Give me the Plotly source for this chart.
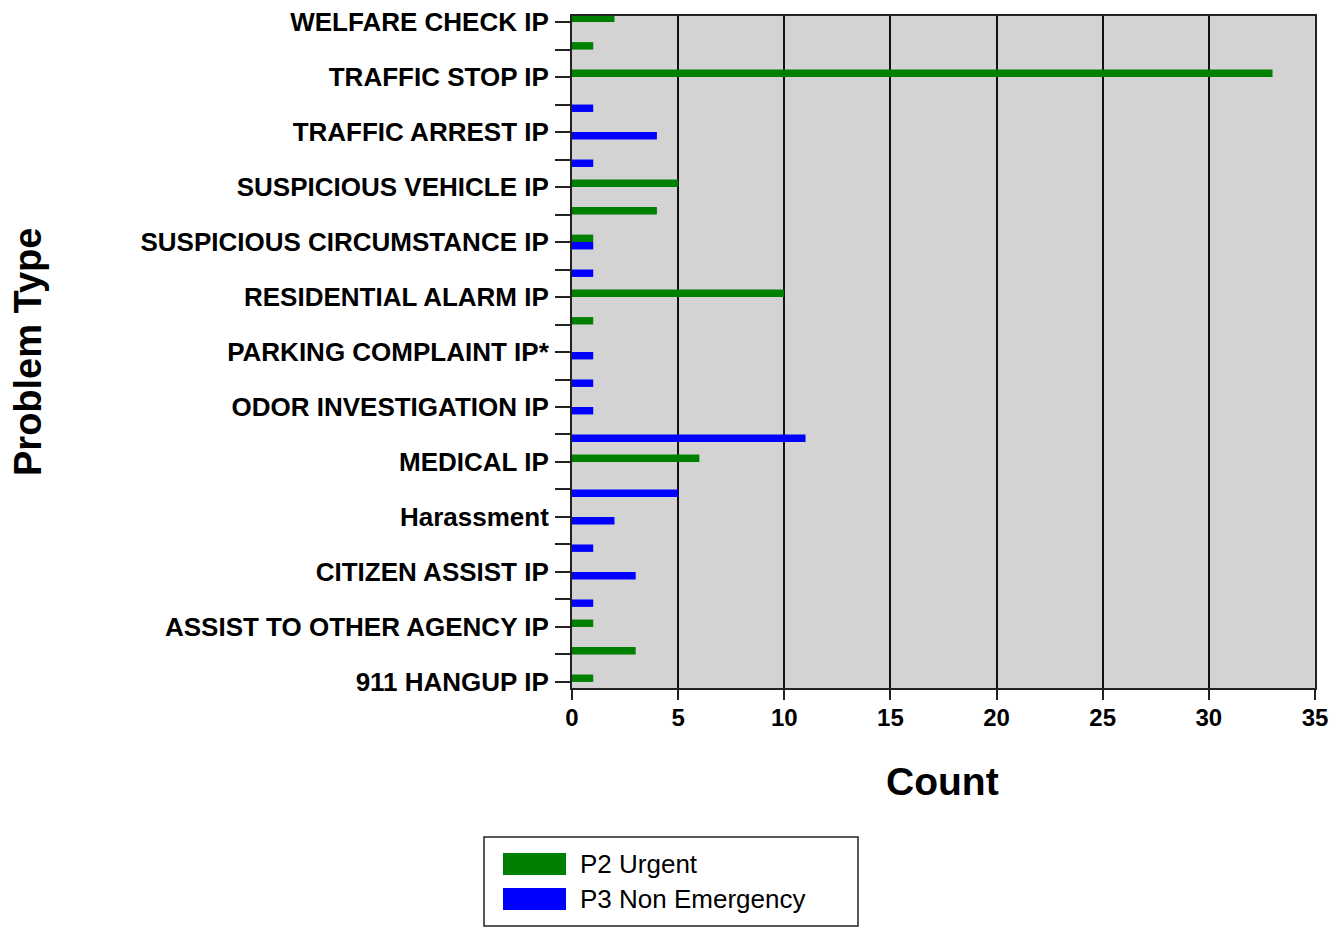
import plotly.graph_objects as go

# Categories, top to bottom as shown. Every other row's label is hidden in the
# source chart (names unreadable), so those use placeholder names.
categories = [
    "WELFARE CHECK IP", "(unlabeled row 2)", "TRAFFIC STOP IP", "(unlabeled row 4)",
    "TRAFFIC ARREST IP", "(unlabeled row 6)", "SUSPICIOUS VEHICLE IP", "(unlabeled row 8)",
    "SUSPICIOUS CIRCUMSTANCE IP", "(unlabeled row 10)", "RESIDENTIAL ALARM IP", "(unlabeled row 12)",
    "PARKING COMPLAINT IP*", "(unlabeled row 14)", "ODOR INVESTIGATION IP", "(unlabeled row 16)",
    "MEDICAL IP", "(unlabeled row 18)", "Harassment", "(unlabeled row 20)",
    "CITIZEN ASSIST IP", "(unlabeled row 22)", "ASSIST TO OTHER AGENCY IP", "(unlabeled row 24)",
    "911 HANGUP IP",
]
p2_urgent = [2, 1, 33, 0, 0, 0, 5, 4, 1, 0, 10, 1, 0, 0, 0, 0, 6, 0, 0, 0, 0, 0, 1, 3, 1]
p3_non_emergency = [0, 0, 0, 1, 4, 1, 0, 0, 1, 1, 0, 0, 1, 1, 1, 11, 0, 5, 2, 1, 3, 1, 0, 0, 0]
series_names = ["P2 Urgent", "P3 Non Emergency"]
series_colors = ["#008000", "#0000FF"]
x_ticks = [0, 5, 10, 15, 20, 25, 30, 35]
tick_labels = [c if i % 2 == 0 else "" for i, c in enumerate(categories)]

W, H = 1340, 927
OFF = 8  # page body margin
# target plot area in page pixels: x 572..1315, y 16..688
PL, PR, PT, PB = 572, 1315, 16, 688
ML, MT = PL - OFF, PT - OFF
MR = W - (PR - OFF)
MB = H - (PB - OFF)
PW, PH = PR - PL, PB - PT

def px(x):
    return (x - PL) / PW

def py(y):
    return (PB - y) / PH

FONT = "Arial, Liberation Sans, sans-serif"

fig = go.Figure()
for name, vals, col in zip(series_names, [p2_urgent, p3_non_emergency], series_colors):
    fig.add_trace(go.Bar(
        y=categories, x=vals, name=name, orientation="h",
        marker=dict(color=col, line=dict(width=0)), showlegend=False,
    ))

fig.update_layout(
    width=W, height=H,
    margin=dict(l=ML, r=MR, t=MT, b=MB, autoexpand=False),
    paper_bgcolor="white", plot_bgcolor="#D3D3D3",
    barmode="group", bargap=0.46, bargroupgap=0,
    font=dict(family=FONT, color="black"),
)
fig.update_xaxes(
    range=[0, 35], tickvals=x_ticks, showgrid=True, gridcolor="#111111", gridwidth=1.5,
    showline=True, linecolor="#222222", linewidth=2, mirror=True,
    ticks="outside", ticklen=10, tickcolor="#222222", tickwidth=2,
    tickfont=dict(size=24, family=FONT, weight="bold"), zeroline=False,
    ticklabelstandoff=-3, automargin=False,
)
fig.update_yaxes(
    type="category", categoryorder="array", categoryarray=categories,
    range=[len(categories) - 1 + 0.22, -0.22],
    tickvals=categories, ticktext=tick_labels,
    showgrid=False, showline=True, linecolor="#222222", linewidth=2, mirror=True,
    ticks="outside", ticklen=15, tickcolor="#222222", tickwidth=2,
    tickfont=dict(size=26, family=FONT, weight="bold"), ticklabelstandoff=1,
    automargin=False,
)

# axis titles
fig.add_annotation(text="Count", xref="paper", yref="paper", x=px(942), y=py(781),
                   showarrow=False, xanchor="center", yanchor="middle",
                   font=dict(size=39, family=FONT, weight="bold"))
fig.add_annotation(text="Problem Type", xref="paper", yref="paper", x=px(28), y=py(352),
                   showarrow=False, xanchor="center", yanchor="middle", textangle=-90,
                   font=dict(size=38, family=FONT, weight="bold"))

# legend box drawn manually (large swatches as in the reference)
fig.add_shape(type="rect", xref="paper", yref="paper", x0=px(484), x1=px(858), y0=py(926), y1=py(837),
              line=dict(color="#222222", width=1.5), fillcolor="white", layer="above")
for i, (name, col) in enumerate(zip(series_names, series_colors)):
    top = 853 + i * 35
    fig.add_shape(type="rect", xref="paper", yref="paper", x0=px(503), x1=px(566),
                  y0=py(top + 22), y1=py(top), line=dict(width=0), fillcolor=col, layer="above")
    fig.add_annotation(text=name, xref="paper", yref="paper", x=px(578), y=py(top + 11),
                       showarrow=False, xanchor="left", yanchor="middle",
                       font=dict(size=26, family=FONT, color="black"))

fig.write_html("out.html")
